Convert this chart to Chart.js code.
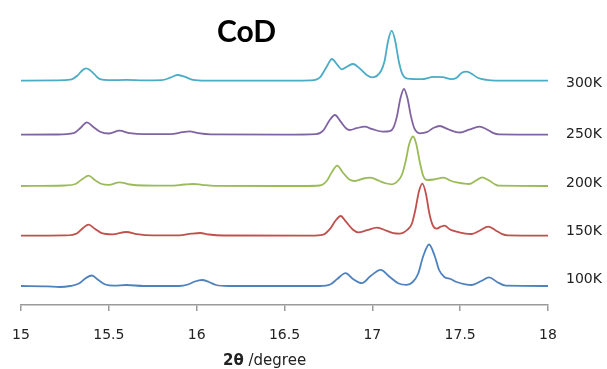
<!DOCTYPE html>
<html>
<head>
<meta charset="utf-8">
<script src="https://cdn.jsdelivr.net/npm/chart.js@4.4.0/dist/chart.umd.min.js"></script>
<style>
  body { margin: 0; background: #fff; }
  canvas { display: block; }
</style>
</head>
<body>
<canvas id="xrd" width="607" height="369"></canvas>
<script>
// temperature labels, bottom to top
const temps = ['100K', '150K', '200K', '250K', '300K'];
// vertical offset of each pattern (arbitrary units)
const offsets = [19, 69.3, 119, 170.3, 224.3];

// 2theta / intensity pairs
const tth100 = [15.00, 15.15, 15.22, 15.28, 15.33, 15.37, 15.403, 15.44, 15.48, 15.53, 15.60, 15.70, 15.90, 15.95, 15.99, 16.03, 16.07, 16.11, 16.18, 16.70, 16.76, 16.80, 16.848, 16.89, 16.94, 16.99, 17.047, 17.10, 17.15, 17.195, 17.23, 17.26, 17.29, 17.323, 17.355, 17.38, 17.41, 17.445, 17.48, 17.53, 17.565, 17.62, 17.665, 17.71, 17.76, 18.00];
const int100 = [0, -0.3, -1, 0, 2.5, 8, 10.5, 6, 1.5, 0.3, 1, 0, 0, 1.5, 4.5, 6, 4, 1, 0, 0, 1.5, 7, 12.8, 7, 2.8, 10, 16.2, 9, 2.5, 1.2, 4, 12, 30, 41.5, 30, 16, 9, 7, 4, 1.7, 1, 5, 8.7, 4, 0.3, 0];

const tth150 = [15.00, 15.25, 15.32, 15.355, 15.385, 15.42, 15.46, 15.52, 15.60, 15.66, 15.75, 15.90, 15.97, 16.02, 16.07, 16.15, 16.65, 16.72, 16.76, 16.79, 16.82, 16.85, 16.89, 16.92, 16.97, 17.027, 17.08, 17.12, 17.155, 17.20, 17.225, 17.245, 17.265, 17.285, 17.305, 17.325, 17.345, 17.365, 17.39, 17.412, 17.44, 17.48, 17.53, 17.565, 17.61, 17.66, 17.70, 17.74, 17.77, 18.00];
const int150 = [0, 0.3, 2.5, 8, 11, 7, 2.5, 1.3, 3.7, 1.5, 0.3, 0.3, 2, 2.7, 1.2, 0.2, 0, 1, 7, 15, 19.7, 14, 6, 3.4, 5.5, 8, 5, 2.5, 2, 6, 12, 26, 44, 52, 42, 22, 10, 7, 9, 10, 6.5, 4, 2, 1.7, 5, 9, 5.5, 1.5, 0.3, 0];

const tth200 = [15.00, 15.25, 15.31, 15.35, 15.385, 15.42, 15.46, 15.50, 15.56, 15.62, 15.70, 15.85, 15.93, 15.98, 16.03, 16.10, 16.60, 16.70, 16.74, 16.77, 16.80, 16.83, 16.87, 16.90, 16.95, 16.99, 17.04, 17.08, 17.11, 17.15, 17.17, 17.19, 17.21, 17.232, 17.25, 17.27, 17.29, 17.31, 17.35, 17.405, 17.45, 17.48, 17.55, 17.59, 17.625, 17.66, 17.70, 17.72, 18.00];
const int200 = [0, 0.5, 2, 7, 10.3, 6, 2, 1.2, 3.7, 1.5, 0.5, 0.3, 1.5, 2, 1.2, 0.2, 0, 0.5, 5, 14, 20.3, 14, 6.5, 5, 7.5, 8.3, 5, 2.5, 1.7, 6, 12, 25, 42, 49.5, 42, 24, 10, 6, 6.5, 8.3, 5, 3.7, 2, 5.5, 8.7, 6, 1.5, 0.3, 0];

const tth250 = [15.00, 15.20, 15.30, 15.34, 15.375, 15.41, 15.45, 15.50, 15.56, 15.62, 15.70, 15.85, 15.92, 15.96, 16.01, 16.08, 16.50, 16.68, 16.72, 16.755, 16.787, 16.82, 16.85, 16.872, 16.91, 16.957, 17.00, 17.06, 17.10, 17.12, 17.14, 17.16, 17.18, 17.20, 17.22, 17.24, 17.27, 17.31, 17.35, 17.384, 17.43, 17.478, 17.50, 17.55, 17.61, 17.65, 17.69, 17.72, 18.00];
const int250 = [0, 0.2, 1.5, 7, 12.4, 8, 3, 1.2, 4, 1.5, 0.5, 0.5, 2.5, 3.4, 1.5, 0.3, 0, 0.5, 4, 14, 19.7, 13, 6.5, 4.7, 6.5, 8, 5.5, 3, 3.5, 7, 18.3, 36.5, 45.7, 36.5, 18.3, 6, 1.4, 2.5, 7, 8.7, 5.5, 2.5, 2.2, 5, 8, 5.5, 1.5, 0.3, 0];

const tth300 = [15.00, 15.20, 15.28, 15.32, 15.35, 15.37, 15.39, 15.42, 15.45, 15.50, 15.60, 15.70, 15.80, 15.85, 15.89, 15.93, 15.98, 16.05, 16.40, 16.65, 16.70, 16.74, 16.77, 16.80, 16.825, 16.86, 16.89, 16.93, 16.97, 17.00, 17.05, 17.07, 17.09, 17.11, 17.13, 17.15, 17.17, 17.20, 17.28, 17.35, 17.40, 17.45, 17.48, 17.51, 17.535, 17.56, 17.60, 17.65, 17.70, 18.00];
const int300 = [0, 0.3, 1, 5, 10.5, 12.4, 11, 6, 1.5, 0.5, 0.8, 0.3, 0.5, 3, 5.7, 4, 0.8, 0, 0, 0.3, 3, 14, 21.7, 16, 11.4, 14.5, 16.7, 12, 5.5, 3.4, 10, 20, 40, 50, 40, 20, 7, 2, 1.5, 3.8, 3.5, 1.5, 3, 8, 9, 7.5, 3, 0.8, 0, 0];

const xTicks = [15, 15.5, 16, 16.5, 17, 17.5, 18];

const tthList = [tth100, tth150, tth200, tth250, tth300];
const intList = [int100, int150, int200, int250, int300];
const colors = ['#4f81bd', '#c0504d', '#9bbb59', '#8064a2', '#4bacc6'];

const datasets = temps.map((t, i) => ({
    label: t,
    data: tthList[i].map((x, j) => ({ x: x, y: intList[i][j] + offsets[i] })),
    borderColor: colors[i],
    borderWidth: 1.8,
    pointRadius: 0,
    fill: false,
    cubicInterpolationMode: 'monotone'
}));

const textPlugin = {
    id: 'texts',
    afterDraw(chart) {
        const ctx = chart.ctx;
        const yScale = chart.scales.y;
        ctx.save();

        // temperature labels, spaced a little tighter than the patterns
        ctx.fillStyle = '#222';
        ctx.font = '14px "DejaVu Sans"';
        ctx.textBaseline = 'middle';
        ctx.textAlign = 'left';
        temps.forEach((t, i) => {
            const v = offsets[i] * 0.953 + 7.9;
            ctx.fillText(t, chart.chartArea.right + 18, yScale.getPixelForValue(v));
        });

        ctx.fillStyle = '#000';
        ctx.font = 'bold 30px Lato';
        ctx.textBaseline = 'alphabetic';
        ctx.fillText('CoD', 217, 42);

        // axis title: bold 2θ, regular unit
        const x0 = 223, y0 = 361;
        ctx.fillStyle = '#222';
        ctx.textBaseline = 'middle';
        ctx.font = 'bold 15px "DejaVu Sans"';
        ctx.fillText('2θ', x0, y0);
        const w = ctx.measureText('2θ').width;
        ctx.font = '15px "DejaVu Sans"';
        ctx.fillText(' /degree', x0 + w, y0);
        ctx.restore();
    }
};

const grafico = new Chart(document.getElementById('xrd'), {
    type: 'line',
    data: { datasets: datasets },
    options: {
        responsive: false,
        animation: false,
        layout: { autoPadding: false, padding: { left: 21, top: 5, right: 59, bottom: 0 } },
        plugins: {
            legend: { display: false },
            tooltip: { enabled: false }
        },
        scales: {
            x: {
                type: 'linear',
                min: 15,
                max: 18,
                afterBuildTicks: (scale) => {
                    scale.ticks = xTicks.map(v => ({ value: v }));
                },
                afterFit: (scale) => {
                    scale.height = 64;
                    scale.paddingLeft = 0;
                    scale.paddingRight = 0;
                },
                ticks: {
                    color: '#222',
                    padding: 14,
                    maxRotation: 0,
                    font: { family: 'DejaVu Sans', size: 14, lineHeight: 1.5 },
                    callback: (v) => String(v)
                },
                grid: {
                    drawOnChartArea: false,
                    drawTicks: true,
                    tickLength: 6,
                    color: '#9a9a9a',
                    lineWidth: 1.5
                },
                border: { color: '#9a9a9a', width: 1.5 }
            },
            y: {
                type: 'linear',
                display: false,
                min: 0,
                max: 300
            }
        }
    },
    plugins: [textPlugin]
});
</script>
</body>
</html>
